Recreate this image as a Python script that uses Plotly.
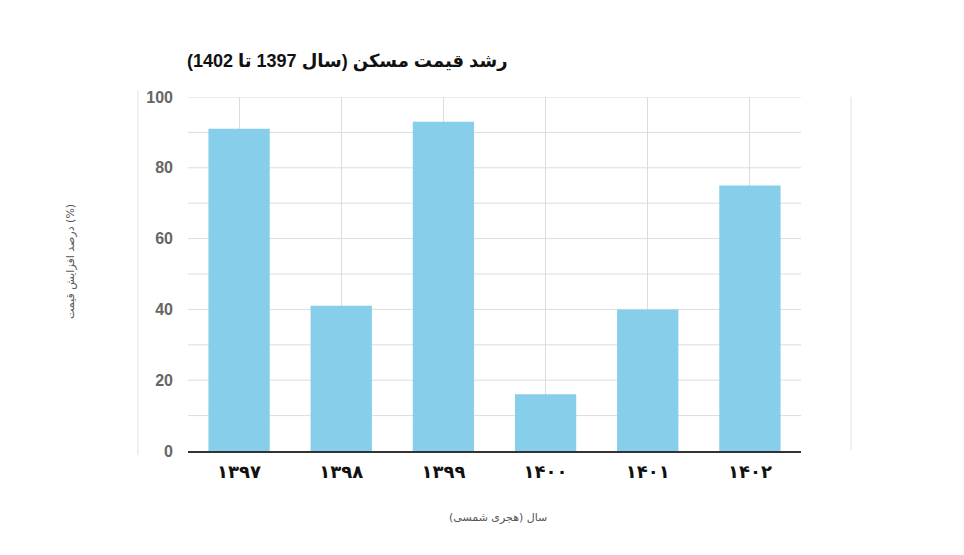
import plotly.graph_objects as go

years = ["1397", "1398", "1399", "1400", "1401", "1402"]
tick_labels = ["۱۳۹۷", "۱۳۹۸", "۱۳۹۹", "۱۴۰۰", "۱۴۰۱", "۱۴۰۲"]
growth = [91, 41, 93, 16, 40, 75]

title_text = "رشد قیمت مسکن (سال 1397 تا 1402)"
x_title = "سال (هجری شمسی)"
y_title = "درصد افزایش قیمت (%)"

fig = go.Figure()
fig.add_trace(go.Bar(
    x=years, y=growth,
    marker=dict(color="#87CEEB", line=dict(width=0)),
    width=0.6,
    hoverinfo="x+y",
))

fig.update_layout(
    width=964, height=555,
    margin=dict(l=180, r=171, t=89, b=112),
    paper_bgcolor="white", plot_bgcolor="white",
    showlegend=False,
    font=dict(family="DejaVu Sans, Arial", color="#333"),
    xaxis=dict(
        type="category",
        tickmode="array", tickvals=years, ticktext=["<b>" + t + "</b>" for t in tick_labels],
        tickfont=dict(family="DejaVu Sans", size=18, color="#111"),
        showgrid=True, gridcolor="#dcdcdc", gridwidth=1,
        showline=True, linecolor="#333", linewidth=1.5,
        ticks="", ticklabelstandoff=4,
        range=[-0.5, 5.5],
    ),
    yaxis=dict(
        range=[0, 100],
        tickvals=[0, 20, 40, 60, 80, 100],
        ticktext=["<b>%d</b>" % v for v in [0, 20, 40, 60, 80, 100]],
        tickfont=dict(family="Liberation Sans, Arial", size=16, color="#666"),
        showgrid=False, zeroline=False,
        ticks="", ticklabelstandoff=14,
    ),
    annotations=[
        dict(text="<b>" + title_text + "</b>", xref="paper", yref="paper",
             x=(510 - 188) / 613, y=(451 - 62) / 354, xanchor="right", yanchor="middle",
             showarrow=False, font=dict(family="Liberation Sans, DejaVu Sans", size=18, color="#111")),
        dict(text=x_title, xref="paper", yref="paper",
             x=(498 - 188) / 613, y=(451 - 517) / 354, xanchor="center", yanchor="middle",
             showarrow=False, font=dict(family="DejaVu Sans", size=11, color="#555")),
        dict(text=y_title, xref="paper", yref="paper", textangle=-90,
             x=(70 - 188) / 613, y=(451 - 262) / 354, xanchor="center", yanchor="middle",
             showarrow=False, font=dict(family="DejaVu Sans", size=11, color="#555")),
    ],
)

shapes = []
for v in range(10, 101, 10):
    shapes.append(dict(type="line", xref="paper", yref="y", x0=0, x1=1, y0=v, y1=v,
                       line=dict(color="#dcdcdc", width=1), layer="below"))
shapes.append(dict(type="line", xref="paper", yref="paper", x0=-0.0816, x1=-0.0816,
                   y0=-0.011, y1=1.02, line=dict(color="#ececec", width=1.5)))
shapes.append(dict(type="line", xref="paper", yref="paper", x0=1.0816, x1=1.0816,
                   y0=0.003, y1=1.0, line=dict(color="#ececec", width=1.5)))
fig.update_layout(shapes=shapes)

fig.write_html("out.html")
